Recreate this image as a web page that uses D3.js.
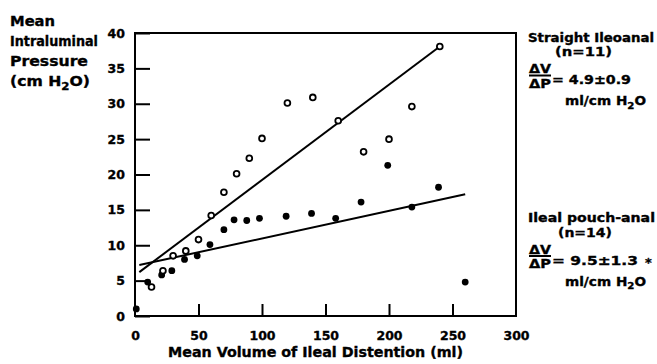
<!DOCTYPE html>
<html><head><meta charset="utf-8">
<script src="https://cdn.jsdelivr.net/npm/d3@7"></script>
<style>
body{margin:0;background:#fff}
text{font-family:"DejaVu Sans",sans-serif;font-weight:bold;fill:#000;stroke:#000;stroke-width:0.35px}
</style>
</head><body><svg id="c" width="657" height="364"></svg>
<script>
// ---- data ----
const xTicks = [0, 50, 100, 150, 200, 250, 300];
const yTicks = [0, 5, 10, 15, 20, 25, 30, 35, 40];
// Straight ileoanal (open circles)
const straightVol   = [13, 22, 30, 40, 50, 60, 70, 80, 90, 100, 120, 140, 160, 180, 200, 218, 240];
const straightPress = [4.1, 6.4, 8.5, 9.2, 10.8, 14.2, 17.5, 20.1, 22.3, 25.1, 30.1, 30.9, 27.6, 23.2, 25.0, 29.6, 38.1];
// Ileal pouch-anal (filled circles)
const pouchVol   = [1, 10, 21, 29, 39, 49, 59, 70, 78, 88, 98, 119, 139, 158, 178, 199, 218, 239, 260];
const pouchPress = [1.0, 4.8, 5.8, 6.4, 8.0, 8.5, 10.1, 12.2, 13.6, 13.5, 13.8, 14.1, 14.5, 13.8, 16.1, 21.3, 15.4, 18.2, 4.8];
// regression lines (end points)
const straightFitVol = [3.4, 240], straightFitPress = [6.2, 38.1];
const pouchFitVol = [3.4, 260], pouchFitPress = [7.2, 17.2];

// ---- chart ----
const svg = d3.select("#c");
const x = d3.scaleLinear().domain([0, 300]).range([135, 516]);
const y = d3.scaleLinear().domain([0, 40]).range([316, 33]);

// axes
const gy = svg.append("g").attr("transform", `translate(${x(0)},0)`)
  .call(d3.axisLeft(y).tickValues(yTicks).tickSizeInner(-15).tickSizeOuter(0).tickPadding(10));
const gx = svg.append("g").attr("transform", `translate(0,${y(0)})`)
  .call(d3.axisBottom(x).tickValues(xTicks).tickSizeInner(-12).tickSizeOuter(0).tickPadding(15));
[gx, gy].forEach(g => {
  g.select(".domain").remove();
  g.selectAll(".tick line").attr("stroke", "#000").attr("stroke-width", 2);
  g.selectAll(".tick text").style("font-size", "12.5px").style("font-family", '"DejaVu Sans",sans-serif').style("font-weight", "bold");
});
gx.selectAll(".tick").filter(d => d === 0 || d === 300).select("line").remove();

// frame
svg.append("rect")
  .attr("x", x(0)).attr("y", y(40))
  .attr("width", x(300) - x(0)).attr("height", y(0) - y(40))
  .attr("fill", "none").attr("stroke", "#000").attr("stroke-width", 2);

// fit lines
const line = d3.line().x(d => x(d[0])).y(d => y(d[1]));
svg.append("path").datum(d3.zip(straightFitVol, straightFitPress))
  .attr("d", line).attr("fill", "none").attr("stroke", "#000").attr("stroke-width", 2);
svg.append("path").datum(d3.zip(pouchFitVol, pouchFitPress))
  .attr("d", line).attr("fill", "none").attr("stroke", "#000").attr("stroke-width", 2);

// points
svg.append("g").selectAll("circle").data(d3.zip(pouchVol, pouchPress)).join("circle")
  .attr("cx", d => x(d[0])).attr("cy", d => y(d[1])).attr("r", 3.4).attr("fill", "#000");
svg.append("g").selectAll("circle").data(d3.zip(straightVol, straightPress)).join("circle")
  .attr("cx", d => x(d[0])).attr("cy", d => y(d[1])).attr("r", 2.9)
  .attr("fill", "#fff").attr("stroke", "#000").attr("stroke-width", 1.8);

// helper: text stretched to a measured width
function txt(t, xx, yy, size, w, anchor) {
  const e = svg.append("text").attr("x", xx).attr("y", yy).style("font-size", size + "px").text(t);
  if (anchor) e.attr("text-anchor", anchor);
  if (w) e.attr("textLength", w).attr("lengthAdjust", "spacingAndGlyphs");
  return e;
}
function h2o(t, xx, yy, size, w) {
  const tx = svg.append("text").attr("x", xx).attr("y", yy).style("font-size", size + "px");
  tx.append("tspan").text(t);
  tx.append("tspan").attr("dy", size * 0.3).style("font-size", (size * 0.75) + "px").text("2");
  tx.append("tspan").attr("dy", -size * 0.3).text("O" + (t.startsWith("(") ? ")" : ""));
  if (w) tx.attr("textLength", w).attr("lengthAdjust", "spacingAndGlyphs");
  return tx;
}

// axis titles
txt("Mean Volume of Ileal Distention (ml)", 168, 356.5, 14, 295);
txt("Mean", 10, 26, 13.5, 45);
txt("Intraluminal", 10, 45.5, 13.5, 88);
txt("Pressure", 10, 65.5, 13.5, 78);
h2o("(cm H", 10, 85.5, 13.5, 80);

// annotations
function annot(title, tw, nText, nx, nw, val, vw, star, top) {
  txt(title, 528, top, 12, tw);
  txt(nText, nx, top + 14.5, 12, nw);
  txt("ΔV", 529, top + 31.5, 11.5, 22);
  svg.append("line").attr("x1", 529).attr("x2", 551).attr("y1", top + 34).attr("y2", top + 34)
    .attr("stroke", "#000").attr("stroke-width", 2);
  txt("ΔP", 529, top + 46, 11.5, 22);
  txt(val, 552, top + 42.5, 12, vw);
  if (star) txt("*", 645, top + 45, 13);
  h2o("ml/cm H", 565, top + 63.5, 12, 81);
}
annot("Straight Ileoanal", 126, "(n=11)", 555, 57, "= 4.9±0.9", 79, false, 41.5);
annot("Ileal pouch-anal", 127, "(n=14)", 558, 54, "= 9.5±1.3", 86, true, 222);
</script></body></html>
